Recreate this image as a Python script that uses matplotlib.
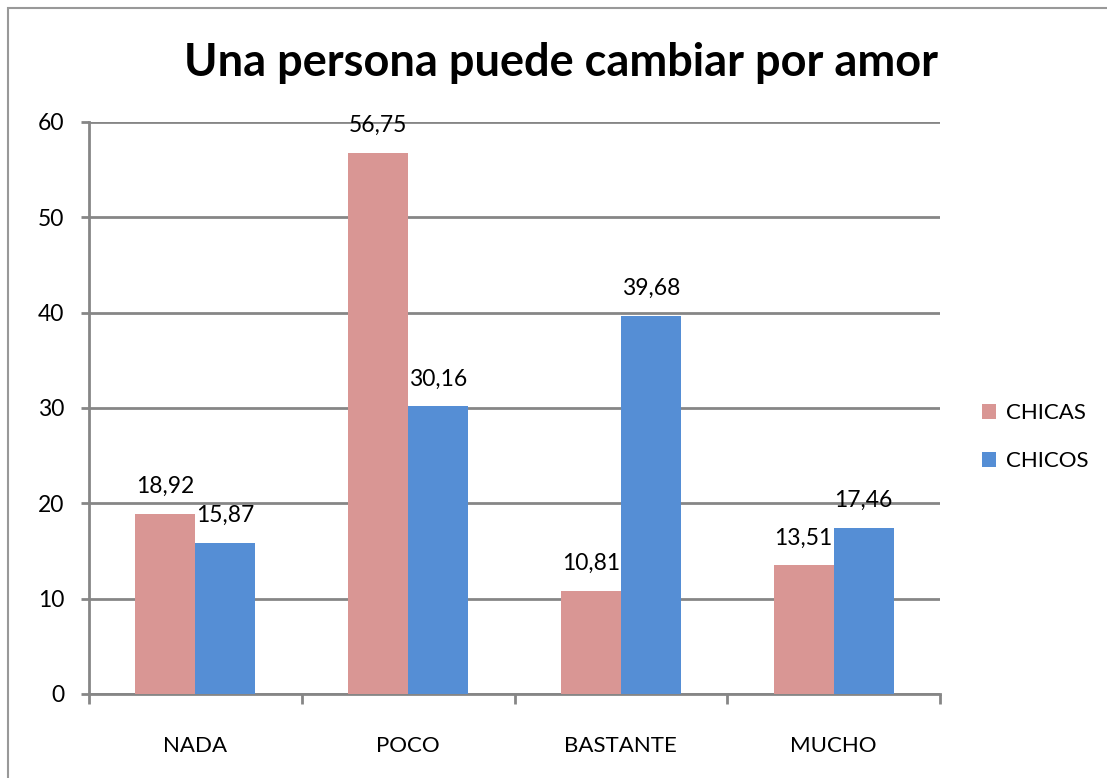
import numpy as np
import matplotlib.pyplot as plt
from matplotlib.patches import Rectangle

categorias = ['NADA', 'POCO', 'BASTANTE', 'MUCHO']
chicas = [18.92, 56.75, 10.81, 13.51]
chicos = [15.87, 30.16, 39.68, 17.46]
series = ['CHICAS', 'CHICOS']
colores = ['#D99694', '#558ED5']
yticks = [0, 10, 20, 30, 40, 50, 60]

plt.rcParams['font.family'] = ['Lato', 'DejaVu Sans']
gris = '#868686'

fig = plt.figure(figsize=(11.07, 7.78), dpi=100)
ax = fig.add_axes([89/1107, 1-694/778, (940-89)/1107, (694-122)/778])

x = np.arange(len(categorias))
w = 0.282
for vals, off, col, lab in [(chicas, -w/2, colores[0], series[0]),
                            (chicos, w/2, colores[1], series[1])]:
    bars = ax.bar(x + off, vals, width=w, color=col, label=lab, zorder=3)
    for b, v in zip(bars, vals):
        ax.annotate(f'{v:.2f}'.replace('.', ','), (b.get_x() + b.get_width()/2, v),
                    xytext=(0, 12), textcoords='offset points',
                    ha='center', va='bottom', fontsize=16.5)

ax.set_xlim(-0.5, len(categorias) - 0.5)
ax.set_ylim(0, 60)
ax.set_yticks(yticks)
ax.yaxis.grid(True, color=gris, linewidth=2, zorder=0)
ax.set_axisbelow(True)
ax.set_xticks(np.arange(len(categorias) + 1) - 0.5)
ax.set_xticklabels([])
ax.set_xticks(x, minor=True)
ax.set_xticklabels(categorias, minor=True)
ax.tick_params(axis='x', which='major', length=7, width=2, color=gris)
ax.tick_params(axis='x', which='minor', length=0, pad=30, labelsize=16)
ax.tick_params(axis='y', length=6, width=2, color=gris, pad=12, labelsize=16.5)
for s in ['top', 'right']:
    ax.spines[s].set_visible(False)
for s in ['left', 'bottom']:
    ax.spines[s].set_color(gris)
    ax.spines[s].set_linewidth(2)

fig.text(561/1107, 1-63/778, 'Una persona puede cambiar por amor',
         ha='center', va='center', fontsize=32.5, fontweight='bold')

leg = fig.legend(loc='center left', bbox_to_anchor=(962/1107, 1-437/778),
                 frameon=False, fontsize=16, handlelength=0.65, handleheight=0.65,
                 handletextpad=0.45, labelspacing=1.25)

fig.patches.append(Rectangle((8/1107, -0.1), 1.2, 1.1 - 8/778,
                             transform=fig.transFigure, fill=False,
                             edgecolor='#999999', linewidth=1.5))

fig.savefig('out.png', dpi=100)
